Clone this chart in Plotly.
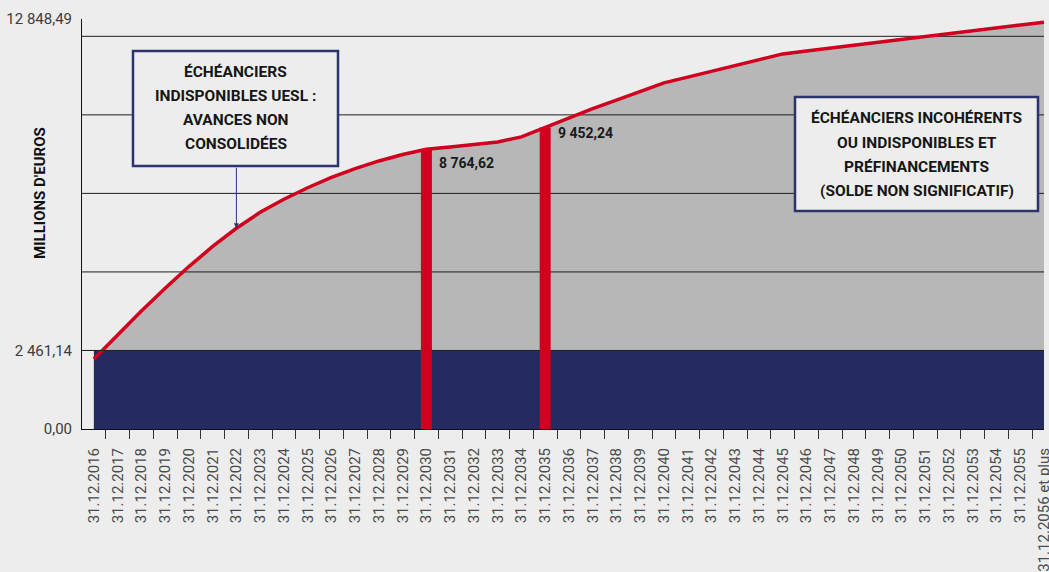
import plotly.graph_objects as go

# ---------------- data ----------------
categories = ["31.12.%d" % y for y in range(2016, 2056)] + ["31.12.2056 et plus"]

red_values = [2194, 2962, 3699, 4410, 5090, 5720, 6290, 6790, 7200, 7560,
              7885, 8160, 8400, 8600, 8764.62, 8840, 8918, 8997, 9154, 9452.24,
              9768, 10038, 10307, 10577, 10846, 11028, 11210, 11392, 11574, 11755,
              11846, 11937, 12025, 12116, 12207, 12298, 12389, 12476, 12567, 12658,
              12749]

navy_values = [2461.14, 2461.14, 2461.14, 2461.14, 2461.14, 2461.14, 2461.14,
               2461.14, 2461.14, 2461.14, 2461.14, 2461.14, 2461.14, 2461.14,
               2461.14, 2461.14, 2461.14, 2461.14, 2461.14, 2461.14, 2461.14,
               2461.14, 2461.14, 2461.14, 2461.14, 2461.14, 2461.14, 2461.14,
               2461.14, 2461.14, 2461.14, 2461.14, 2461.14, 2461.14, 2461.14,
               2461.14, 2461.14, 2461.14, 2461.14, 2461.14, 2461.14]

bar_categories = ["31.12.2030", "31.12.2035"]
bar_values = [8764.62, 9452.24]
bar_labels = ["8 764,62", "9 452,24"]

y_tick_values = [0, 2461.14, 12848.49]
y_tick_labels = ["0,00", "2 461,14", "12 848,49"]
grid_values = [2461.14, 4922.28, 7383.42, 9844.56, 12305.70]

box1_lines = ["ÉCHÉANCIERS", "INDISPONIBLES UESL :", "AVANCES NON", "CONSOLIDÉES"]
box2_lines = ["ÉCHÉANCIERS INCOHÉRENTS", "OU INDISPONIBLES ET",
              "PRÉFINANCEMENTS", "(SOLDE NON SIGNIFICATIF)"]
arrow_category = "31.12.2022"

# ---------------- style ----------------
W, H = 1049, 572
ML, MR, MT, MB = 82, 5, 19, 143
BG = "#ededed"
GREY = "#b7b7b7"
NAVY = "#252b60"
RED = "#d0001e"
BOXLINE = "#2c3470"
FONT = "Roboto, 'Noto Sans', sans-serif"

PW = W - ML - MR
PH = H - MT - MB


def px(xp):
    return (xp - ML) / PW


def py(yp):
    return (H - MB - yp) / PH


idx = list(range(len(categories)))
bar_idx = [categories.index(c) for c in bar_categories]
x_range = [-0.5, len(categories) - 1]

grid_x, grid_y = [], []
for g in grid_values:
    grid_x += [x_range[0], x_range[1], None]
    grid_y += [g, g, None]

# red vertical bars drawn as thick segments from 0 to their value
bar_x, bar_y = [], []
for bi, bv in zip(bar_idx, bar_values):
    bar_x += [bi, bi, None]
    bar_y += [0, bv, None]

fig = go.Figure()
fig.add_trace(go.Scatter(x=idx, y=red_values, mode="none", fill="tozeroy",
                         fillcolor=GREY, hoverinfo="skip", showlegend=False))
fig.add_trace(go.Scatter(x=idx, y=navy_values, mode="none", fill="tozeroy",
                         fillcolor=NAVY, hoverinfo="skip", showlegend=False))
fig.add_trace(go.Scatter(x=grid_x, y=grid_y, mode="lines",
                         line=dict(color="#1e1e1e", width=1),
                         hoverinfo="skip", showlegend=False))
fig.add_trace(go.Scatter(x=bar_x, y=bar_y, mode="lines",
                         line=dict(color=RED, width=11),
                         hoverinfo="skip", showlegend=False))
fig.add_trace(go.Scatter(x=idx, y=red_values, mode="lines",
                         line=dict(color=RED, width=3.5), showlegend=False))

annotations = []
# value labels next to the red bars
label_shift = [(11, -14), (11, -6)]
for bi, bv, bl, (xs, ys) in zip(bar_idx, bar_values, bar_labels, label_shift):
    annotations.append(dict(x=bi, y=bv, xref="x", yref="y", text=bl,
                            showarrow=False, xanchor="left", yanchor="middle",
                            xshift=xs, yshift=ys,
                            font=dict(family=FONT, size=14, color="#1a1a1a",
                                      weight="bold")))

# y axis title
annotations.append(dict(x=px(40), y=py(193), xref="paper", yref="paper",
                        text="MILLIONS D'EUROS", textangle=-90, showarrow=False,
                        xanchor="center", yanchor="middle",
                        font=dict(family=FONT, size=15, color="#111111",
                                  weight="bold")))

# box texts
for lines, cx, ys in [(box1_lines, 235.5, [72, 96, 120, 144]),
                      (box2_lines, 916.5, [118, 142.5, 167, 191])]:
    for t, yy in zip(lines, ys):
        annotations.append(dict(x=px(cx), y=py(yy), xref="paper", yref="paper",
                                text=t, showarrow=False, xanchor="center",
                                yanchor="middle",
                                font=dict(family=FONT, size=15.5, color="#161616",
                                          weight="bold")))

# arrow from box 1 to the curve
ai = categories.index(arrow_category)
annotations.append(dict(x=ai, y=red_values[ai], xref="x", yref="y", text="",
                        showarrow=True, ax=0, ay=-62, arrowhead=2,
                        arrowsize=1, arrowwidth=1, arrowcolor=BOXLINE,
                        standoff=0, startstandoff=0))

shapes = [
    dict(type="rect", xref="paper", yref="paper", x0=px(133), x1=px(338),
         y0=py(166), y1=py(51), fillcolor=BG, line=dict(color=BOXLINE, width=2.5),
         layer="above"),
    dict(type="rect", xref="paper", yref="paper", x0=px(795), x1=px(1038),
         y0=py(211), y1=py(97), fillcolor=BG, line=dict(color=BOXLINE, width=2.5),
         layer="above"),
]

fig.update_layout(
    width=W, height=H,
    margin=dict(l=ML, r=MR, t=MT, b=MB, autoexpand=False),
    paper_bgcolor=BG, plot_bgcolor=BG,
    showlegend=False,
    annotations=annotations,
    shapes=shapes,
    xaxis=dict(range=x_range, tickmode="array", tickvals=idx, ticktext=categories,
               tickangle=-90, ticks="", showline=True, linecolor="#111111",
               linewidth=1, showgrid=False, zeroline=False, automargin=False,
               ticklabelstandoff=12, ticklabeloverflow="allow",
               tickfont=dict(family=FONT, size=15, color="#4a4a4a"),
               minor=dict(tickvals=[i + 0.5 for i in idx[:-1]], ticks="outside",
                          ticklen=9, tickcolor="#333333", tickwidth=1,
                          showgrid=False)),
    yaxis=dict(range=[0, 12848.49], tickmode="array", tickvals=y_tick_values,
               ticktext=y_tick_labels, ticks="inside", ticklen=23,
               tickcolor="#222222", showline=True, linecolor="#111111",
               linewidth=1, showgrid=False, zeroline=False, automargin=False,
               ticklabelstandoff=6,
               tickfont=dict(family=FONT, size=15, color="#3c3c3c")),
)

fig.write_html(
    "out.html",
    config={"displayModeBar": False},
    post_script="document.body.style.margin='0';document.body.style.background='%s';" % BG,
)
